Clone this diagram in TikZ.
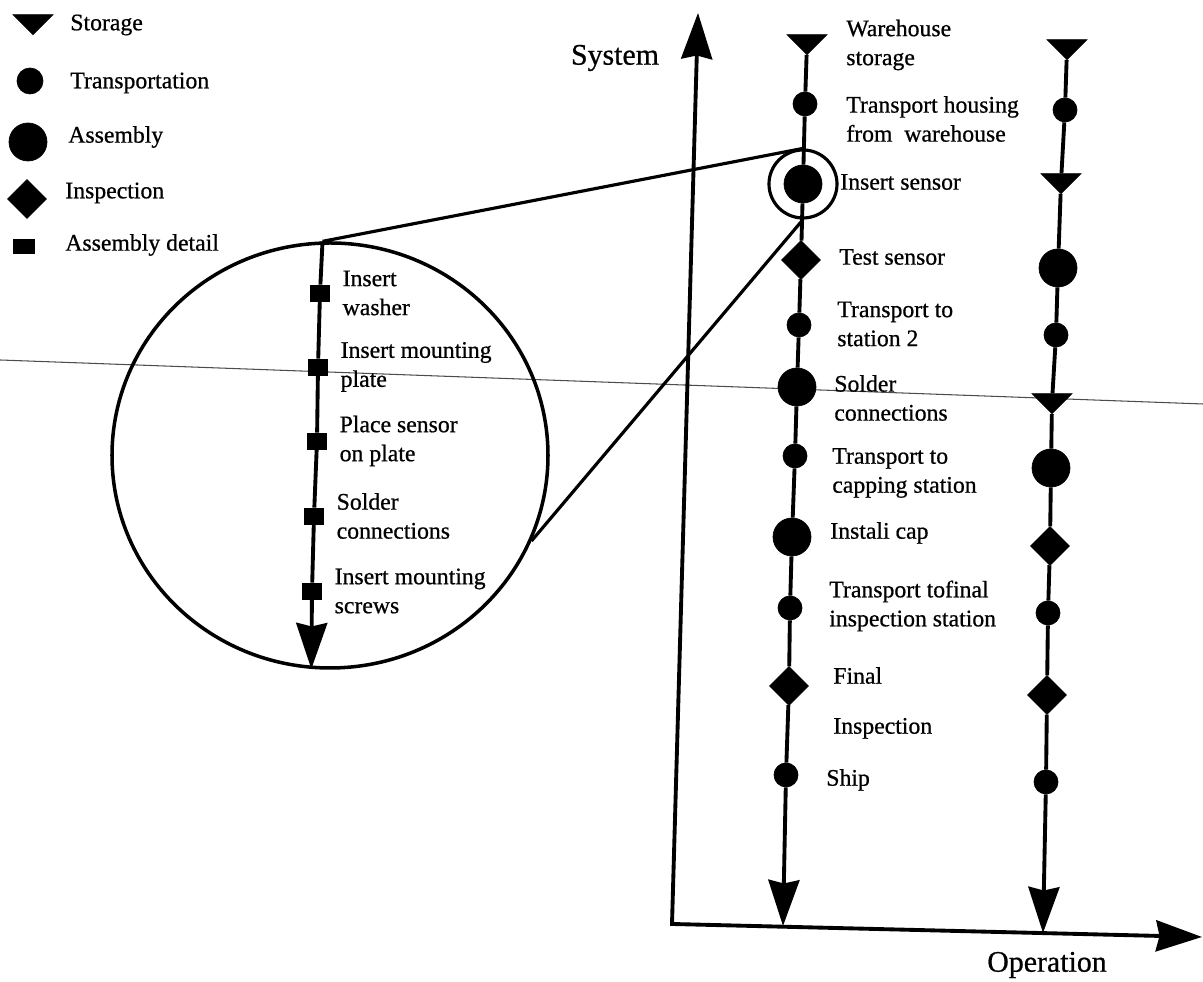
\documentclass[tikz,border=0pt]{standalone}
\usepackage{fontspec}
\setmainfont{Liberation Serif}
\newfontfamily\scanfont{Liberation Serif}[FakeBold=0.7]
\usetikzlibrary{arrows.meta,shapes.geometric,positioning}
\tikzset{
  Bigtip/.tip={Stealth[length=0.92cm,width=0.62cm,inset=0.07cm]},
  storage/.style={
    shape = isosceles triangle,
    isosceles triangle apex angle = 90,
    shape border rotate = -90,
    inner sep = 0pt,
    minimum size = 0.4cm,
    draw,
    fill
  },
  transport/.style={
    shape = circle,
    inner sep = 0pt,
    minimum size = 0.48cm,
    draw,
    fill
  },
  assembly/.style={
    shape = circle,
    inner sep = 0pt,
    minimum size = 0.76cm,
    draw,
    fill
  },
  inspection/.style={
    shape = diamond,
    inner sep = 0pt,
    minimum size = 0.78cm,
    draw,
    fill
  },
  asmdetail/.style={
    shape = rectangle,
    inner sep = 0pt,
    minimum width = 0.38cm,
    minimum height = 0.32cm,
    draw,
    fill
  },
}
\tikzset{
  flow/.style={
    line width=2.2pt,
    -Bigtip
  },
  zoomline/.style={
    line width=1.8pt
  },
  crease/.style={
    line width=0.6pt,
    black!70
  },
  txt/.style={
    anchor=west,
    align=left,
    inner sep=0pt,
    font=\scanfont\fontsize{13.5}{16.5}\selectfont
  },
  axlabel/.style={
    inner sep=0pt,
    font=\scanfont\fontsize{17}{20}\selectfont
  }
}
\begin{document}
\begin{tikzpicture}
  \useasboundingbox (0,0) rectangle (24.06,19.64);
  % crease of the scanned page
  \coordinate (cl) at (0,12.44);
  \coordinate (cr) at (24.06,11.56);
  \draw[crease] (cl) -- (cr);

  % legend
  \node[storage] (l1) at (0.66,19.18) {};
  \node[transport,minimum size=0.52cm] (l2) at (0.60,18.02) {};
  \node[assembly] (l3) at (0.56,16.80) {};
  \node[inspection] (l4) at (0.54,15.66) {};
  \node[asmdetail,minimum width=0.42cm,minimum height=0.28cm] (l5) at (0.48,14.72) {};
  \node[txt] at (1.40,19.14) {Storage};
  \node[txt] at (1.40,17.98) {Transportation};
  \node[txt] at (1.36,16.90) {Assembly};
  \node[txt] at (1.30,15.78) {Inspection};
  \node[txt] at (1.30,14.74) {Assembly detail};

  % axes
  \coordinate (o) at (13.44,1.16);
  \coordinate (sys) at (13.96,19.38);
  \coordinate (op) at (24.04,0.90);
  \draw[line width=2.2pt,Bigtip-Bigtip] (sys) -- (o) -- (op);
  \node[axlabel] at (12.30,18.48) {System};
  \node[axlabel] at (20.94,0.34) {Operation};

  % first product
  \node[storage] (w1) at (16.14,18.78) {};
  \node[transport] (w2) at (16.10,17.56) {};
  \node[assembly] (w3) at (16.06,15.96) {};
  \node[inspection] (w4) at (16.02,14.44) {};
  \node[transport] (w5) at (15.98,13.14) {};
  \node[assembly] (w6) at (15.94,11.90) {};
  \node[transport] (w7) at (15.90,10.52) {};
  \node[assembly] (w8) at (15.84,8.90) {};
  \node[transport] (w9) at (15.80,7.48) {};
  \node[inspection] (w10) at (15.78,5.92) {};
  \node[transport] (w11) at (15.72,4.14) {};
  \coordinate (wend) at (15.66,1.12);
  \draw[flow] (w1) -- (w2) -- (w3) -- (w4) -- (w5) -- (w6) -- (w7) -- (w8)
    -- (w9) -- (w10) -- (w11) -- (wend);

  \node[txt] at (16.92,18.74) {Warehouse\\storage};
  \node[txt] at (16.92,17.26) {Transport housing\\from~~warehouse};
  \node[txt] at (16.80,16.00) {Insert sensor};
  \node[txt] at (16.78,14.50) {Test sensor};
  \node[txt] at (16.74,13.16) {Transport to\\station 2};
  \node[txt] at (16.68,11.68) {Solder\\connections};
  \node[txt] at (16.64,10.18) {Transport to\\capping station};
  \node[txt] at (16.60,8.98) {Instali cap};
  \node[txt] at (16.58,7.52) {Transport tofinal\\inspection station};
  \node[txt] at (16.66,5.58) {Final\\[0.42cm]Inspection};
  \node[txt] at (16.52,4.04) {Ship};

  % second product
  \node[storage] (v1) at (21.34,18.68) {};
  \node[transport] (v2) at (21.30,17.44) {};
  \node[storage] (v3) at (21.22,16.00) {};
  \node[assembly] (v4) at (21.16,14.28) {};
  \node[transport] (v5) at (21.12,12.94) {};
  \node[storage] (v6) at (21.04,11.60) {};
  \node[assembly] (v7) at (21.02,10.28) {};
  \node[inspection] (v8) at (21.00,8.72) {};
  \node[transport] (v9) at (20.96,7.38) {};
  \node[inspection] (v10) at (20.94,5.74) {};
  \node[transport] (v11) at (20.92,4.00) {};
  \coordinate (vend) at (20.86,0.98);
  \draw[flow] (v1) -- (v2) -- (v3) -- (v4) -- (v5) -- (v6) -- (v7) -- (v8)
    -- (v9) -- (v10) -- (v11) -- (vend);

  % detail of the sensor insertion
  \node[draw,circle,line width=1.8pt,minimum size=1.36cm] (mag) at (w3) {};
  \node[draw,ellipse,line width=2pt,minimum width=8.72cm,minimum height=8.5cm]
    (zoomcirc) at (6.60,10.53) {};
  \draw[zoomline] (zoomcirc.92) -- (mag.north);
  \draw[zoomline] (mag.south) -- (zoomcirc.-23);

  \foreach \i/\x/\y/\lbl in {1/6.40/13.78/{Insert\\washer},
      2/6.36/12.30/{Insert mounting\\plate},
      3/6.34/10.82/{Place sensor\\on plate},
      4/6.28/9.32/{Solder\\connections},
      5/6.24/7.82/{Insert mounting\\screws}}{
    \node[asmdetail] (d\i) at (\x,\y) {};
    \node[txt,right=0.25cm of d\i] {\lbl};
  }
  \draw[flow] (zoomcirc.92) -- (d1) -- (d2) -- (d3) -- (d4) -- (d5)
    -- (zoomcirc.265);
\end{tikzpicture}
\end{document}
